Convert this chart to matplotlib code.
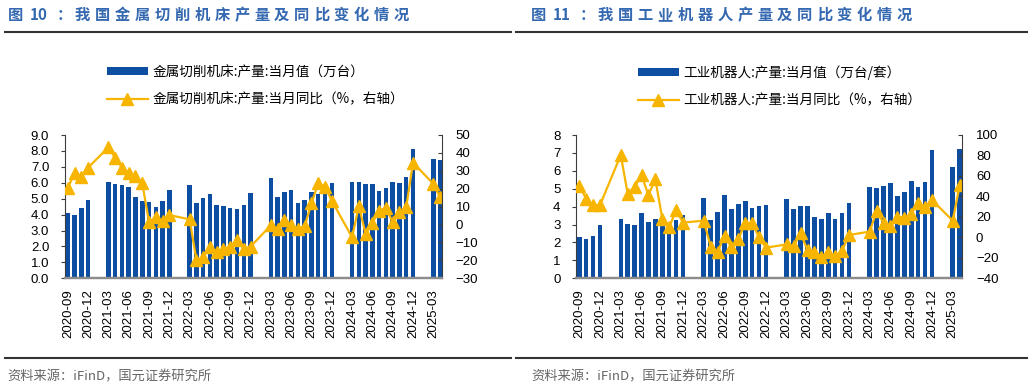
import numpy as np
import pandas as pd
from matplotlib import pyplot as plt
from matplotlib.lines import Line2D
from matplotlib.font_manager import FontProperties

# months 2020-09 .. 2025-04, Jan/Feb not published (None)
months = pd.period_range('2020-09', '2025-04', freq='M').strftime('%Y-%m').tolist()

# 金属切削机床 产量 当月值 (万台)
tool_output = [4.10, 4.00, 4.44, 4.92,
               None, None, 6.05, 5.92, 5.84, 5.73, 5.13, 4.86, 4.81, 4.46, 4.83, 5.53,
               None, None, 5.84, 4.73, 5.02, 5.32, 4.58, 4.52, 4.44, 4.33, 4.60, 5.34,
               None, None, 6.32, 5.13, 5.44, 5.53, 4.73, 4.92, 5.42, 5.32, 5.69, 5.96,
               None, None, 6.05, 6.05, 5.92, 5.92, 5.48, 5.69, 6.05, 6.00, 6.36, 8.14,
               None, None, 7.51, 7.45]
# 金属切削机床 产量 当月同比 (%)
tool_yoy = [20.6, 28.6, 26.7, 31.8,
            None, None, 43.1, 37.2, 31.8, 28.6, 27.1, 23.0, 1.4, 4.0, 1.8, 5.3,
            None, None, 2.9, -19.8, -18.3, -12.3, -15.5, -13.6, -12.3, -8.6, -13.5, -12.3,
            None, None, -0.4, -2.6, 2.6, -0.4, -2.3, -0.8, 11.9, 23.0, 21.2, 13.3,
            None, None, -7.1, 10.4, -5.3, 1.1, 7.8, 9.1, 1.4, 7.0, 9.6, 34.6,
            None, None, 22.7, 15.2]

# 工业机器人 产量 当月值 (万台/套)
robot_output = [2.33, 2.18, 2.38, 3.00,
                None, None, 3.33, 3.05, 3.00, 3.67, 3.16, 3.29, 2.94, 2.60, 3.24, 3.53,
                None, None, 4.47, 3.27, 3.68, 4.63, 3.85, 4.15, 4.33, 3.93, 4.02, 4.07,
                None, None, 4.41, 3.85, 4.06, 4.02, 3.44, 3.33, 3.63, 3.33, 3.67, 4.22,
                None, None, 5.08, 5.06, 5.17, 5.34, 4.58, 4.82, 5.41, 5.12, 5.38, 7.16,
                None, None, 6.21, 7.20]
# 工业机器人 产量 当月同比 (%)
robot_yoy = [50.2, 37.8, 31.3, 31.6,
             None, None, 80.5, 42.4, 49.5, 60.6, 41.4, 56.7, 18.3, 9.8, 26.7, 14.4,
             None, None, 16.3, -9.1, -14.0, 1.3, -9.7, -1.9, 14.4, 13.7, 0.0, -10.1,
             None, None, -6.8, -8.4, 3.9, -12.3, -14.0, -18.9, -14.3, -18.2, -13.0, 2.3,
             None, None, 5.6, 26.1, 13.7, 11.1, 20.2, 19.2, 22.8, 33.9, 29.3, 36.5,
             None, None, 16.3, 50.8]

BAR_C = '#0D4EA2'
LINE_C = '#F7B500'
TITLE_C = '#3468B0'
W, H = 1032, 387
CJK = ['Noto Sans CJK SC', 'DejaVu Sans']
plt.rcParams['font.family'] = ['Liberation Sans', 'Noto Sans CJK SC']

fig = plt.figure(figsize=(W / 100, H / 100), dpi=100)


def fx(px):
    return px / W


def fy(px):
    return 1 - px / H


def title(x0, num, rest):
    # the report titles are letter-spaced, so place them piece by piece
    kw = dict(color=TITLE_C, fontsize=11, fontweight='bold', family=CJK, va='center', ha='left')
    fig.text(fx(x0), fy(15), '图', **kw)
    fig.text(fx(x0 + 22), fy(15), num, **kw)
    fig.text(fx(x0 + 49), fy(15), '：', **kw)
    for i, ch in enumerate(rest):
        fig.text(fx(x0 + 67 + i * 19.9), fy(15), ch, **kw)


def panel(left, right, bars, yoy, ylim_l, yticks_l, lfmt, ylim_r, yticks_r, xlim,
          lab_bar, lab_line, leg_x):
    ax = fig.add_axes([fx(left), fy(278.3), fx(right - left), (278.3 - 135) / H])
    axr = ax.twinx()
    x = np.arange(len(months))
    b_idx = [i for i, v in enumerate(bars) if v is not None]
    l_idx = [i for i, v in enumerate(yoy) if v is not None]
    bc = ax.bar(x[b_idx], [bars[i] for i in b_idx], width=0.66, color=BAR_C)
    ln, = axr.plot(x[l_idx], [yoy[i] for i in l_idx], color=LINE_C, lw=1.6,
                   marker='^', markersize=9)

    ax.set_xlim(*xlim)
    ax.set_ylim(*ylim_l)
    ax.set_yticks(yticks_l)
    ax.set_yticklabels([lfmt % v for v in yticks_l])
    axr.set_ylim(*ylim_r)
    axr.set_yticks(yticks_r)
    tick_pos = x[::3]
    ax.set_xticks(tick_pos)
    ax.set_xticklabels([months[i] for i in tick_pos], rotation=90)

    for a in (ax, axr):
        a.spines['top'].set_visible(False)
        a.spines['bottom'].set_color('#8c8c8c')
        a.spines['bottom'].set_linewidth(1.6)
        a.spines['left'].set_color('#3c3c3c')
        a.spines['right'].set_color('#3c3c3c')
    ax.spines['right'].set_visible(False)
    axr.spines['left'].set_visible(False)
    ax.tick_params(axis='y', direction='out', length=3, width=0.8, pad=8,
                   labelsize=9.5, colors='#3c3c3c', labelcolor='black')
    axr.tick_params(axis='y', direction='in', length=3, width=0.8, pad=10,
                    labelsize=9.5, colors='#3c3c3c', labelcolor='black')
    ax.tick_params(axis='x', length=0, pad=8, labelsize=9.5)

    ax.legend([bc, ln], [lab_bar, lab_line], loc='upper left',
              bbox_to_anchor=(fx(leg_x), fy(65)), bbox_transform=fig.transFigure,
              frameon=False, handlelength=3.0, handleheight=0.5, handletextpad=0.35,
              labelspacing=1.0, borderpad=0, borderaxespad=0, numpoints=1,
              prop=FontProperties(family=CJK, size=9.8))


panel(64.5, 441.7, tool_output, tool_yoy, (0, 9), np.arange(0, 9.1, 1), '%.1f',
      (-30, 50), np.arange(-30, 51, 10), (-0.49, 55.24),
      '金属切削机床:产量:当月值（万台）', '金属切削机床:产量:当月同比（%，右轴）', 107)
panel(575.7, 962, robot_output, robot_yoy, (0, 8), np.arange(0, 8.1, 1), '%d',
      (-40, 100), np.arange(-40, 101, 20), (-0.52, 55.34),
      '工业机器人:产量:当月值（万台/套）', '工业机器人:产量:当月同比（%，右轴）', 637.7)

title(8, '10', '我国金属切削机床产量及同比变化情况')
title(531, '11', '我国工业机器人产量及同比变化情况')

# header / footer rules
for x0, x1 in [(5, 511), (516, 1027)]:
    fig.add_artist(Line2D([fx(x0), fx(x1)], [fy(31.5)] * 2, color='#333333', lw=1.5))
    fig.add_artist(Line2D([fx(x0), fx(x1)], [fy(357.5)] * 2, color='#333333', lw=1.5))

for x0 in (7, 531):
    fig.text(fx(x0), fy(377), '资料来源：iFinD，国元证券研究所', family=CJK,
             fontsize=9.5, color='#666666', va='center', ha='left')

fig.savefig('out.png', dpi=100)
